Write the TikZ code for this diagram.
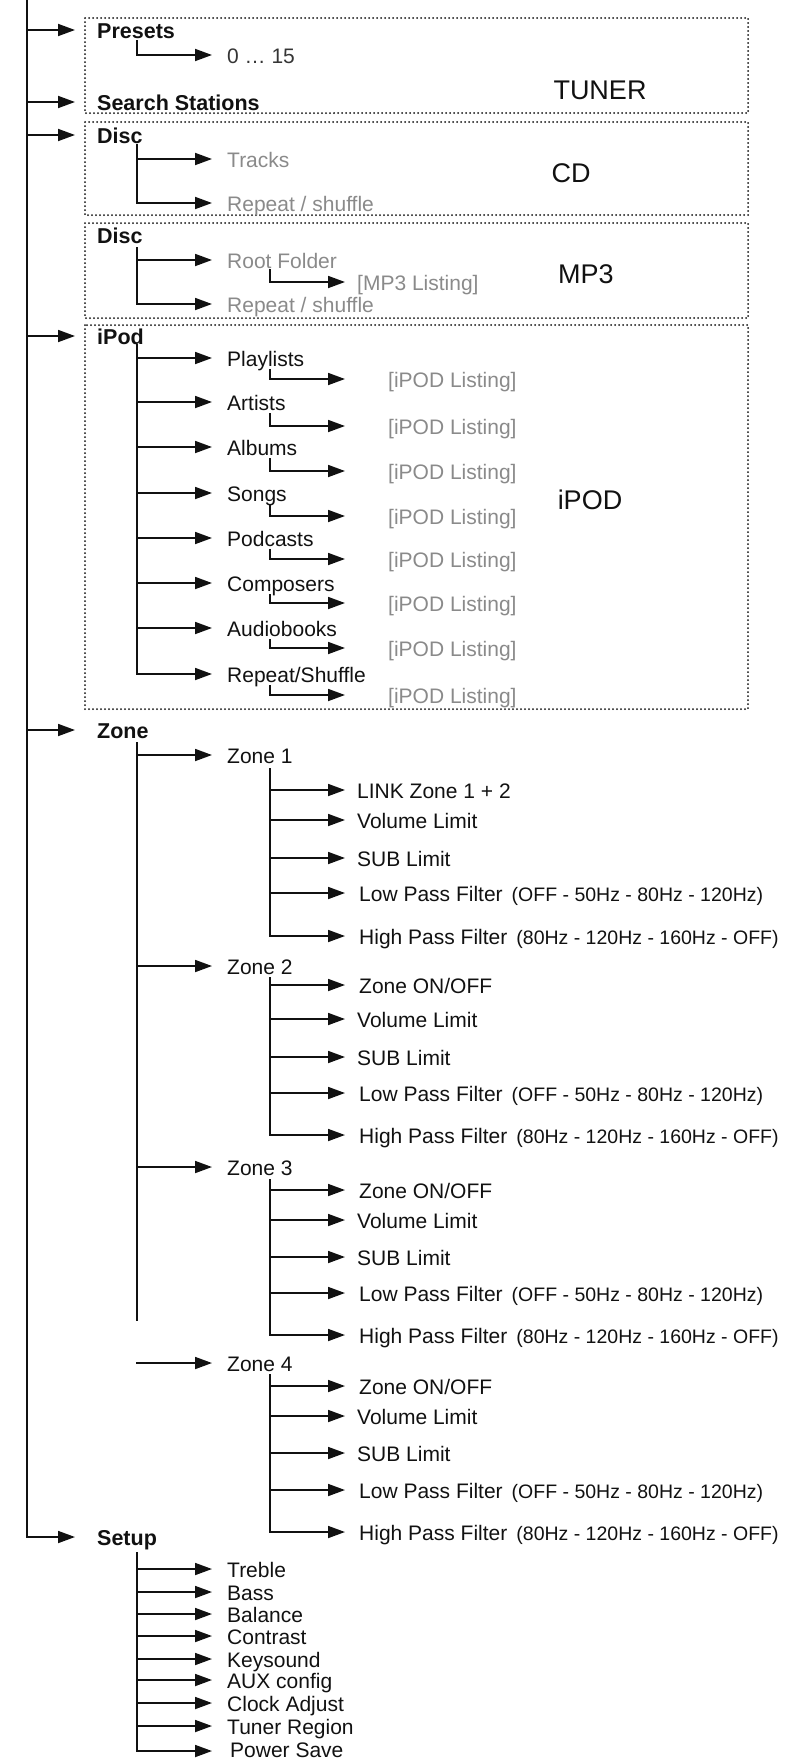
\documentclass[tikz,border=0pt]{standalone}
\usepackage{fontspec}
\setmainfont{Liberation Sans}
\usetikzlibrary{arrows.meta}
\definecolor{ink}{HTML}{111111}
\definecolor{greytext}{HTML}{8A8A8A}
% #1 start x, #2 tip x, #3 y, #4 text x, #5 style, #6 name, #7 text
\newcommand\mkitem[7]{%
  \draw[arr] (#1,#3) -- (#2,#3);
  \node[#5] (#6) at (#4,#3+8) {#7};}
\newcommand\paren[1]{\hspace{9pt}{\fontsize{19.5pt}{22pt}\selectfont #1}}
\begin{document}
\begin{tikzpicture}[x=1pt,y=-1pt,
  ln/.style={line width=1.8pt,line cap=rect,draw=ink},
  arr/.style={line width=1.8pt,line cap=rect,draw=ink,-{Triangle[length=17pt,width=12pt]}},
  dotbox/.style={line width=2pt,line cap=round,dash pattern=on 0pt off 4pt,draw=ink},
  txt/.style={inner sep=0pt,anchor=base west,font=\fontsize{21pt}{25pt}\selectfont,text=ink},
  hd/.style={txt,font=\fontsize{21.5pt}{25pt}\selectfont\bfseries},
  gr/.style={txt,text=greytext},
  ttl/.style={inner sep=0pt,font=\fontsize{27pt}{30pt}\selectfont,text=ink},
  ]
\useasboundingbox (0,0) rectangle (788,1759);

% dotted group boxes
\draw[dotbox] (85,18) rectangle (748,113);
\draw[dotbox] (85,122) rectangle (748,215);
\draw[dotbox] (85,223) rectangle (748,318);
\draw[dotbox] (85,325) rectangle (748,709);
\node[ttl] (tuner) at (600,90) {TUNER};
\node[ttl] (cd) at (571,173) {CD};
\node[ttl] (mp3) at (586,274) {MP3};
\node[ttl] (ipodt) at (590,500) {iPOD};

% main spine
\draw[ln] (27,0) -- (27,1537);

% level 1
\mkitem{27}{75}{30}{97}{hd}{presets}{Presets}
\mkitem{27}{75}{102}{97}{hd}{search}{Search Stations}
\mkitem{27}{75}{135}{97}{hd}{disc}{Disc}
\node[hd] (disc2) at (97,243) {Disc};
\mkitem{27}{75}{336}{97}{hd}{ipod}{iPod}
\mkitem{27}{75}{730}{97}{hd}{zone}{Zone}
\mkitem{27}{75}{1537}{97}{hd}{setup}{Setup}

% Presets
\draw[ln] (137,41) -- (137,55);
\mkitem{137}{212}{55}{227}{txt,text=ink!85}{p015}{0 … 15}

% CD
\draw[ln] (137,145) -- (137,203);
\mkitem{137}{212}{159}{227}{gr}{tracks}{Tracks}
\mkitem{137}{212}{203}{227}{gr}{rep1}{Repeat / shuffle}

% MP3
\draw[ln] (137,248) -- (137,304);
\mkitem{137}{212}{260}{227}{gr}{root}{Root Folder}
\draw[ln] (270,270) -- (270,282);
\mkitem{270}{345}{282}{357}{gr}{mp3list}{[MP3 Listing]}
\mkitem{137}{212}{304}{227}{gr}{rep2}{Repeat / shuffle}

% iPod
\draw[ln] (137,345) -- (137,674);
\foreach \y/\s/\n/\t in {358/379/pl/Playlists, 402/426/ar/Artists, 447/471/al/Albums,
  493/516/so/Songs, 538/559/po/Podcasts, 583/603/co/Composers,
  628/648/au/Audiobooks, 674/695/rs/Repeat\slash Shuffle}{
  \mkitem{137}{212}{\y}{227}{txt}{\n}{\t}
  \draw[ln] (270,\y+12) -- (270,\s);
  \mkitem{270}{345}{\s}{388}{gr}{\n-list}{[iPOD Listing]}
}

% Zone
\draw[ln] (137,743) -- (137,1320);
\mkitem{137}{212}{755}{227}{txt}{z1}{Zone 1}
\mkitem{137}{212}{966}{227}{txt}{z2}{Zone 2}
\mkitem{137}{212}{1167}{227}{txt}{z3}{Zone 3}
\mkitem{137}{212}{1363}{227}{txt}{z4}{Zone 4}

\draw[ln] (270,769) -- (270,936);
\mkitem{270}{345}{790}{357}{txt}{z1a}{LINK Zone 1 + 2}
\mkitem{270}{345}{820}{357}{txt}{z1b}{Volume Limit}
\mkitem{270}{345}{858}{357}{txt}{z1c}{SUB Limit}
\mkitem{270}{345}{893}{359}{txt}{z1d}{Low Pass Filter\paren{(OFF - 50Hz - 80Hz - 120Hz)}}
\mkitem{270}{345}{936}{359}{txt}{z1e}{High Pass Filter\paren{(80Hz - 120Hz - 160Hz - OFF)}}

\foreach \z/\a/\b/\c/\d/\e/\top in {2/985/1019/1057/1093/1135/978, 3/1190/1220/1257/1293/1335/1180, 4/1386/1416/1453/1490/1532/1375}{
  \draw[ln] (270,\top) -- (270,\e);
  \mkitem{270}{345}{\a}{359}{txt}{z\z a}{Zone ON\slash OFF}
  \mkitem{270}{345}{\b}{357}{txt}{z\z b}{Volume Limit}
  \mkitem{270}{345}{\c}{357}{txt}{z\z c}{SUB Limit}
  \mkitem{270}{345}{\d}{359}{txt}{z\z d}{Low Pass Filter\paren{(OFF - 50Hz - 80Hz - 120Hz)}}
  \mkitem{270}{345}{\e}{359}{txt}{z\z e}{High Pass Filter\paren{(80Hz - 120Hz - 160Hz - OFF)}}
}

% Setup
\draw[ln] (137,1553) -- (137,1751);
\mkitem{137}{212}{1569}{227}{txt}{s1}{Treble}
\mkitem{137}{212}{1592}{227}{txt}{s2}{Bass}
\mkitem{137}{212}{1614}{227}{txt}{s3}{Balance}
\mkitem{137}{212}{1636}{227}{txt}{s4}{Contrast}
\mkitem{137}{212}{1659}{227}{txt}{s5}{Keysound}
\mkitem{137}{212}{1680}{227}{txt}{s6}{AUX config}
\mkitem{137}{212}{1703}{227}{txt}{s7}{Clock Adjust}
\mkitem{137}{212}{1726}{227}{txt}{s8}{Tuner Region}
\draw[arr] (137,1751) -- (212,1751);
\node[txt] (s9) at (230,1757) {Power Save};
\end{tikzpicture}
\end{document}
